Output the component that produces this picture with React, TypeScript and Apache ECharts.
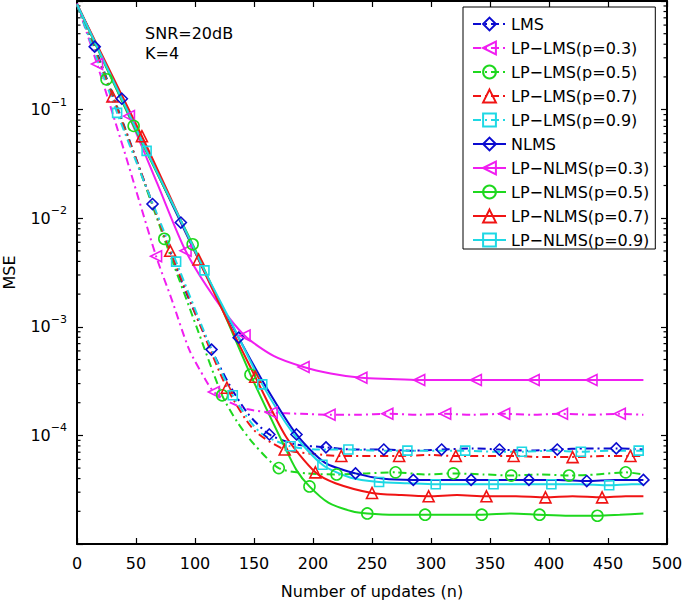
import React, { useEffect, useRef } from 'react';
import * as echarts from 'echarts';

// ---- data (n = number of updates, MSE) ----
const LMS_N = [0, 15, 40, 64, 90, 114, 130, 145, 163, 185, 211, 235, 260, 285, 309, 335, 358, 383, 407, 432, 457, 480];
const LMS_MSE = [0.912, 0.38, 0.0708, 0.0135, 0.0024, 6.17e-4, 2.82e-4, 1.58e-4, 1.02e-4, 8.3e-5, 7.76e-5, 7.41e-5, 7.41e-5, 7.24e-5, 7.41e-5, 7.59e-5, 7.41e-5, 7.24e-5, 7.41e-5, 7.59e-5, 7.59e-5, 7.41e-5];
const LMS_MARK = [15, 64, 114, 163, 211, 260, 309, 358, 407, 457];

const LPLMS03_N = [0, 17, 40, 67, 80, 95, 109, 116, 130, 145, 165, 190, 214, 240, 263, 290, 312, 335, 362, 385, 411, 435, 460, 480];
const LPLMS03_MSE = [0.95, 0.263, 0.0417, 0.00447, 0.00182, 6.2e-4, 3.24e-4, 2.51e-4, 2.0e-4, 1.74e-4, 1.62e-4, 1.58e-4, 1.55e-4, 1.55e-4, 1.58e-4, 1.55e-4, 1.58e-4, 1.55e-4, 1.58e-4, 1.55e-4, 1.58e-4, 1.55e-4, 1.58e-4, 1.55e-4];
const LPLMS03_MARK = [17, 67, 116, 165, 214, 263, 312, 362, 411, 460];

const LPLMS05_N = [0, 25, 50, 74, 103, 123, 136, 150, 171, 195, 220, 245, 270, 295, 319, 345, 368, 392, 417, 440, 465, 480];
const LPLMS05_MSE = [0.92, 0.19, 0.0347, 0.00646, 8.9e-4, 2.34e-4, 1.32e-4, 8.3e-5, 5.0e-5, 4.47e-5, 4.37e-5, 4.47e-5, 4.57e-5, 4.37e-5, 4.47e-5, 4.37e-5, 4.27e-5, 4.37e-5, 4.27e-5, 4.37e-5, 4.57e-5, 4.37e-5];
const LPLMS05_MARK = [25, 74, 123, 171, 220, 270, 319, 368, 417, 465];

const LPLMS07_N = [0, 30, 55, 79, 105, 127, 150, 176, 200, 224, 250, 273, 300, 321, 345, 370, 395, 420, 445, 469, 480];
const LPLMS07_MSE = [0.92, 0.132, 0.0251, 0.00501, 0.001, 2.75e-4, 1.12e-4, 7.41e-5, 6.76e-5, 6.46e-5, 6.46e-5, 6.46e-5, 6.61e-5, 6.46e-5, 6.46e-5, 6.46e-5, 6.31e-5, 6.31e-5, 6.46e-5, 6.46e-5, 6.46e-5];
const LPLMS07_MARK = [30, 79, 127, 176, 224, 273, 321, 370, 420, 469];

const LPLMS09_N = [0, 34, 60, 84, 110, 132, 155, 181, 205, 230, 255, 280, 305, 329, 353, 377, 402, 427, 452, 476, 480];
const LPLMS09_MSE = [0.92, 0.0933, 0.0178, 0.00398, 7.9e-4, 2.34e-4, 1.07e-4, 7.94e-5, 7.41e-5, 7.41e-5, 7.24e-5, 7.24e-5, 7.24e-5, 7.24e-5, 7.08e-5, 7.08e-5, 7.24e-5, 7.08e-5, 7.24e-5, 7.24e-5, 7.24e-5];
const LPLMS09_MARK = [34, 84, 132, 181, 230, 280, 329, 377, 427, 476];

const NLMS_N = [0, 38, 63, 88, 113, 137, 160, 186, 210, 236, 260, 285, 310, 334, 358, 383, 408, 432, 456, 480];
const NLMS_MSE = [0.933, 0.126, 0.0339, 0.00912, 0.00251, 7.94e-4, 2.82e-4, 1.02e-4, 5.62e-5, 4.47e-5, 3.98e-5, 3.89e-5, 3.89e-5, 3.89e-5, 3.89e-5, 3.89e-5, 3.89e-5, 3.8e-5, 3.89e-5, 3.89e-5];
const NLMS_MARK = [38, 88, 137, 186, 236, 285, 334, 383, 432, 480];

const LPNLMS03_N = [0, 44, 68, 92, 117, 142, 167, 192, 215, 241, 265, 290, 315, 338, 362, 387, 412, 436, 460, 480];
const LPNLMS03_MSE = [0.933, 0.0871, 0.0209, 0.00501, 0.00182, 8.32e-4, 5.37e-4, 4.27e-4, 3.72e-4, 3.39e-4, 3.31e-4, 3.24e-4, 3.24e-4, 3.24e-4, 3.24e-4, 3.24e-4, 3.24e-4, 3.24e-4, 3.24e-4, 3.24e-4];
const LPNLMS03_MARK = [44, 92, 142, 192, 241, 290, 338, 387, 436];

const LPNLMS05_N = [0, 48, 74, 98, 124, 147, 174, 186, 197, 213, 233, 246, 270, 295, 320, 343, 368, 392, 417, 441, 460, 480];
const LPNLMS05_MSE = [0.933, 0.0708, 0.0191, 0.00575, 0.00138, 3.63e-4, 8.7e-5, 4.79e-5, 3.39e-5, 2.4e-5, 2.0e-5, 1.91e-5, 1.86e-5, 1.86e-5, 1.86e-5, 1.86e-5, 1.91e-5, 1.86e-5, 1.82e-5, 1.82e-5, 1.86e-5, 1.91e-5];
const LPNLMS05_MARK = [48, 98, 147, 197, 246, 295, 343, 392, 441];

const LPNLMS07_N = [0, 55, 80, 103, 127, 151, 177, 202, 219, 250, 275, 298, 322, 347, 372, 397, 420, 445, 465, 480];
const LPNLMS07_MSE = [0.933, 0.0569, 0.0148, 0.00417, 0.00117, 3.47e-4, 9.77e-5, 4.57e-5, 3.63e-5, 2.95e-5, 2.82e-5, 2.75e-5, 2.82e-5, 2.75e-5, 2.75e-5, 2.69e-5, 2.75e-5, 2.69e-5, 2.75e-5, 2.75e-5];
const LPNLMS07_MARK = [55, 103, 151, 202, 250, 298, 347, 397, 445];

const LPNLMS09_N = [0, 59, 84, 108, 133, 157, 183, 208, 232, 256, 280, 304, 330, 353, 378, 402, 426, 451, 470, 480];
const LPNLMS09_MSE = [0.933, 0.0417, 0.0117, 0.00331, 9.8e-4, 2.95e-4, 1.05e-4, 5.37e-5, 4.07e-5, 3.72e-5, 3.63e-5, 3.55e-5, 3.55e-5, 3.55e-5, 3.55e-5, 3.55e-5, 3.55e-5, 3.47e-5, 3.55e-5, 3.55e-5];
const LPNLMS09_MARK = [59, 108, 157, 208, 256, 304, 353, 402, 451];

const X_MIN = 0;
const X_MAX = 500;
const X_INTERVAL = 50;
const Y_MIN = 1e-5;
const Y_MAX = 1;
const LABELED_EXPONENTS = [-1, -2, -3, -4];
const MINOR_TICKS = [2e-5, 3e-5, 4e-5, 5e-5, 6e-5, 7e-5, 8e-5, 9e-5,
  2e-4, 3e-4, 4e-4, 5e-4, 6e-4, 7e-4, 8e-4, 9e-4,
  2e-3, 3e-3, 4e-3, 5e-3, 6e-3, 7e-3, 8e-3, 9e-3,
  2e-2, 3e-2, 4e-2, 5e-2, 6e-2, 7e-2, 8e-2, 9e-2,
  0.2, 0.3, 0.4, 0.5, 0.6, 0.7, 0.8, 0.9];

const FONT = 'DejaVu Sans';
const BLUE = '#0b0bd0';
const MAGENTA = '#f01ef0';
const GREEN = '#1ed81e';
const RED = '#f01414';
const CYAN = '#1ed8e4';
const LEFT_TRI = 'path://M0,5 L10,0 L10,10 Z';
const DASH_DOT = [8, 4, 2, 4];

function makeSeries(name: string, ns: number[], ms: number[], marks: number[], color: string, symbol: string, dashed: boolean, size: number) {
  const markSet = new Set(marks);
  const data = ns.map((n, i) => (markSet.has(n) ? [n, ms[i]] : { value: [n, ms[i]], symbol: 'none' }));
  return {
    name,
    type: 'line',
    data,
    smooth: 0.25,
    symbol,
    symbolSize: size,
    showAllSymbol: true,
    lineStyle: { color, width: 2, type: dashed ? DASH_DOT : 'solid' },
    itemStyle: { color: 'rgba(255,255,255,0)', borderColor: color, borderWidth: 1.6 },
    emphasis: { disabled: true },
    silent: true,
  };
}

export default function App() {
  const ref = useRef<HTMLDivElement>(null);
  useEffect(() => {
    if (!ref.current) return;
    const chart = echarts.init(ref.current, undefined, { renderer: 'svg' });
    const series: any[] = [
      makeSeries('LMS', LMS_N, LMS_MSE, LMS_MARK, BLUE, 'diamond', true, 11),
      makeSeries('LP−LMS(p=0.3)', LPLMS03_N, LPLMS03_MSE, LPLMS03_MARK, MAGENTA, LEFT_TRI, true, 11),
      makeSeries('LP−LMS(p=0.5)', LPLMS05_N, LPLMS05_MSE, LPLMS05_MARK, GREEN, 'circle', true, 11),
      makeSeries('LP−LMS(p=0.7)', LPLMS07_N, LPLMS07_MSE, LPLMS07_MARK, RED, 'triangle', true, 11),
      makeSeries('LP−LMS(p=0.9)', LPLMS09_N, LPLMS09_MSE, LPLMS09_MARK, CYAN, 'rect', true, 9),
      makeSeries('NLMS', NLMS_N, NLMS_MSE, NLMS_MARK, BLUE, 'diamond', false, 11),
      makeSeries('LP−NLMS(p=0.3)', LPNLMS03_N, LPNLMS03_MSE, LPNLMS03_MARK, MAGENTA, LEFT_TRI, false, 11),
      makeSeries('LP−NLMS(p=0.5)', LPNLMS05_N, LPNLMS05_MSE, LPNLMS05_MARK, GREEN, 'circle', false, 11),
      makeSeries('LP−NLMS(p=0.7)', LPNLMS07_N, LPNLMS07_MSE, LPNLMS07_MARK, RED, 'triangle', false, 11),
      makeSeries('LP−NLMS(p=0.9)', LPNLMS09_N, LPNLMS09_MSE, LPNLMS09_MARK, CYAN, 'rect', false, 9),
    ];
    const names = series.map((s) => s.name);
    series.push({
      type: 'custom',
      name: 'minorTicks',
      silent: true,
      data: MINOR_TICKS.map((v) => [X_MIN, v]),
      renderItem: (params: any, api: any) => {
        const v = api.value(1);
        const pl = api.coord([X_MIN, v]);
        const pr = api.coord([X_MAX, v]);
        return {
          type: 'group',
          children: [
            { type: 'line', shape: { x1: pl[0], y1: pl[1], x2: pl[0] + 3.5, y2: pl[1] }, style: { stroke: '#000', lineWidth: 1.2 } },
            { type: 'line', shape: { x1: pr[0], y1: pr[1], x2: pr[0] - 3.5, y2: pr[1] }, style: { stroke: '#000', lineWidth: 1.2 } },
          ],
        };
      },
    });

    const yLabel = (v: number) => {
      const e = Math.round(Math.log10(v));
      if (LABELED_EXPONENTS.indexOf(e) < 0) return '';
      return `{b|10}{s|−${-e}}`;
    };

    chart.setOption({
      animation: false,
      backgroundColor: '#fff',
      textStyle: { fontFamily: FONT },
      grid: { left: 77, right: 18, top: 1, bottom: 61, containLabel: false, outerBoundsMode: 'none' },
      legend: {
        data: names,
        orient: 'vertical',
        left: 463,
        top: 7,
        itemWidth: 33,
        itemHeight: 16,
        itemGap: 6,
        padding: [8, 6, 0, 9],
        backgroundColor: '#fff',
        borderColor: '#000',
        borderWidth: 1,
        borderRadius: 0,
        selectedMode: false,
        textStyle: { fontSize: 16, fontFamily: FONT, color: '#000', lineHeight: 18 },
      },
      graphic: [
        {
          type: 'text',
          left: 145,
          top: 23,
          style: { text: 'SNR=20dB\nK=4', fontSize: 16, fontFamily: FONT, lineHeight: 20, fill: '#000' },
        },
      ],
      xAxis: [
        {
          type: 'value',
          min: X_MIN,
          max: X_MAX,
          interval: X_INTERVAL,
          name: 'Number of updates (n)',
          nameLocation: 'middle',
          nameGap: 39,
          nameTextStyle: { fontSize: 16, fontFamily: FONT, color: '#000' },
          axisLine: { show: true, onZero: false, lineStyle: { color: '#000', width: 2 } },
          axisTick: { show: true, inside: true, length: 6, lineStyle: { color: '#000', width: 1.2 } },
          axisLabel: { fontSize: 16, fontFamily: FONT, color: '#000', margin: 11 },
          splitLine: { show: false },
        },
        {
          type: 'value',
          position: 'top',
          min: X_MIN,
          max: X_MAX,
          interval: X_INTERVAL,
          axisLine: { show: true, onZero: false, lineStyle: { color: '#000', width: 2 } },
          axisTick: { show: true, inside: true, length: 6, lineStyle: { color: '#000', width: 1.2 } },
          axisLabel: { show: false },
          splitLine: { show: false },
        },
      ],
      yAxis: [
        {
          type: 'log',
          logBase: 10,
          min: Y_MIN,
          max: Y_MAX,
          name: 'MSE',
          nameLocation: 'middle',
          nameGap: 60,
          nameTextStyle: { fontSize: 16, fontFamily: FONT, color: '#000' },
          axisLine: { show: true, onZero: false, lineStyle: { color: '#000', width: 2 } },
          axisTick: { show: true, inside: true, length: 6, lineStyle: { color: '#000', width: 1.2 } },
          axisLabel: {
            formatter: yLabel,
            margin: 10,
            rich: {
              b: { fontSize: 16, fontFamily: FONT, color: '#000', lineHeight: 26 },
              s: { fontSize: 11, fontFamily: FONT, color: '#000', lineHeight: 9, verticalAlign: 'top' },
            },
          },
          splitLine: { show: false },
        },
        {
          type: 'log',
          logBase: 10,
          position: 'right',
          min: Y_MIN,
          max: Y_MAX,
          axisLine: { show: true, onZero: false, lineStyle: { color: '#000', width: 2 } },
          axisTick: { show: true, inside: true, length: 6, lineStyle: { color: '#000', width: 1.2 } },
          axisLabel: { show: false },
          splitLine: { show: false },
        },
      ],
      series,
    });
    return () => chart.dispose();
  }, []);
  return <div ref={ref} style={{ position: 'fixed', left: 0, top: 0, width: 685, height: 605 }} />;
}
